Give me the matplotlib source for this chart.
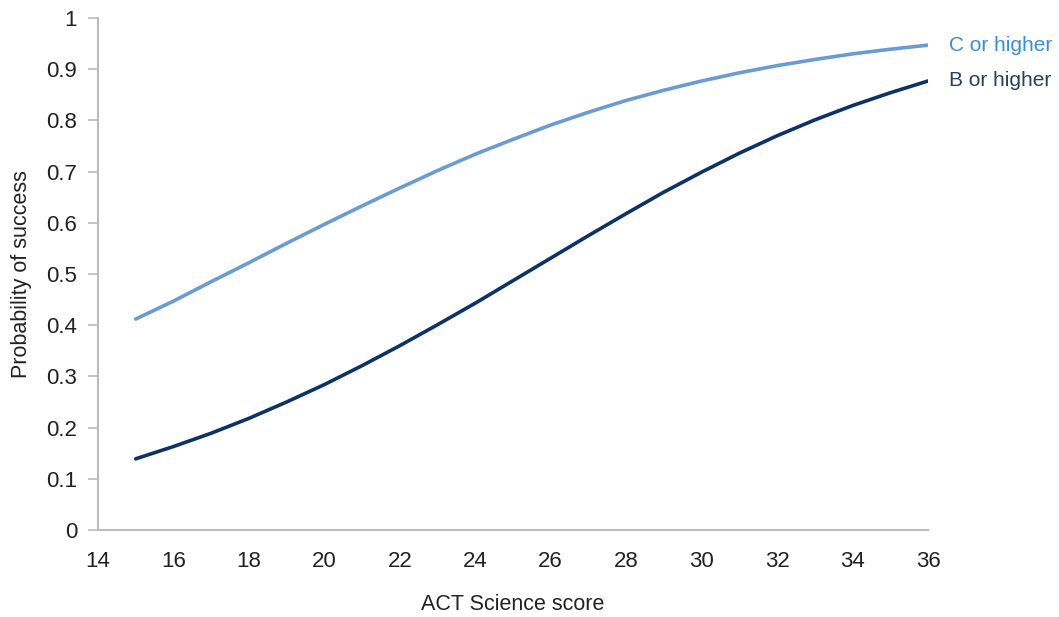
import matplotlib

matplotlib.use("Agg")
import matplotlib.pyplot as plt  # noqa: E402

plt.rcParams["font.family"] = ["Liberation Sans", "DejaVu Sans"]

# ACT Science score and predicted probability of success
scores = list(range(15, 37))
c_or_higher = [0.412, 0.447, 0.485, 0.522, 0.560, 0.597, 0.633, 0.668, 0.702, 0.734, 0.763,
               0.791, 0.816, 0.839, 0.859, 0.877, 0.893, 0.907, 0.919, 0.930, 0.939, 0.947]
b_or_higher = [0.139, 0.163, 0.189, 0.218, 0.250, 0.284, 0.321, 0.360, 0.401, 0.443, 0.487,
               0.531, 0.575, 0.618, 0.660, 0.699, 0.736, 0.770, 0.801, 0.829, 0.854, 0.877]
series_labels = ["C or higher", "B or higher"]
x_ticks = list(range(14, 37, 2))
y_ticks = [0, 0.1, 0.2, 0.3, 0.4, 0.5, 0.6, 0.7, 0.8, 0.9, 1]

C_LINE, C_TEXT = "#6a9bd3", "#3a8fd3"
B_LINE, B_TEXT = "#0d3366", "#263f66"
GREY = "#bbbbbb"
TXT = "#222222"

fig = plt.figure(figsize=(10.59, 6.17), dpi=100)
ax = fig.add_axes([0.0925, 0.141, 0.7838, 0.8298])

ax.plot(scores, c_or_higher, color=C_LINE, lw=2.6, solid_capstyle="round")
ax.plot(scores, b_or_higher, color=B_LINE, lw=2.6, solid_capstyle="round")

ax.text(scores[-1] + 0.55, c_or_higher[-1], series_labels[0], color=C_TEXT,
        fontsize=15, va="center", ha="left")
ax.text(scores[-1] + 0.55, b_or_higher[-1], series_labels[1], color=B_TEXT,
        fontsize=15, va="center", ha="left")

ax.set_xlim(14, 36)
ax.set_ylim(0, 1)
ax.set_xticks(x_ticks)
ax.set_yticks(y_ticks)
ax.set_yticklabels([f"{v:g}" for v in y_ticks])

for side in ["top", "right"]:
    ax.spines[side].set_visible(False)
for side in ["left", "bottom"]:
    ax.spines[side].set_color(GREY)
    ax.spines[side].set_linewidth(1.5)

ax.tick_params(axis="y", length=7, width=1.2, color=GREY, labelsize=16,
               labelcolor=TXT, pad=8)
ax.tick_params(axis="x", length=0, labelsize=16, labelcolor=TXT, pad=15)

ax.set_xlabel("ACT Science score", fontsize=15.5, color=TXT, labelpad=16)
ax.set_ylabel("Probability of success", fontsize=15.5, color=TXT, labelpad=10)

plt.savefig("out.png", dpi=100)
plt.close(fig)
